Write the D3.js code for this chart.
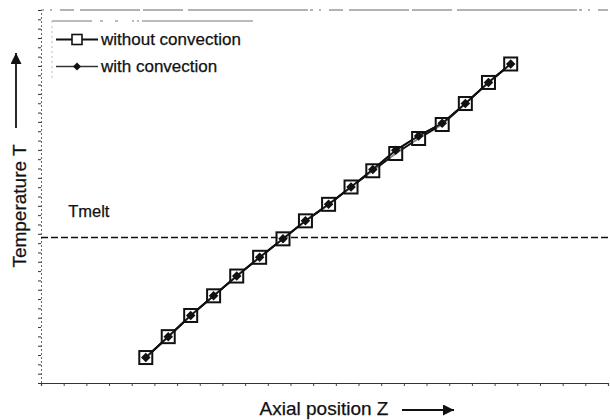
<!DOCTYPE html>
<html>
<head>
<meta charset="utf-8">
<script src="https://cdn.jsdelivr.net/npm/d3@7"></script>
<style>
  body { margin: 0; background: #fff; }
  svg text { font-family: "Liberation Sans", Arial, sans-serif; fill: #111; stroke: #111; stroke-width: 0.25; }
</style>
</head>
<body>
<div id="chart"></div>
<script>
// Axial position (arbitrary units)
const zPos = [4.62, 5.61, 6.60, 7.61, 8.63, 9.64, 10.67, 11.66, 12.68, 13.67, 14.63, 15.64, 16.65, 17.69, 18.71, 19.73, 20.71];
// Temperature without convection
const tWithout = [2.73, 4.97, 7.24, 9.35, 11.47, 13.48, 15.46, 17.39, 19.16, 21.02, 22.76, 24.61, 26.22, 27.72, 29.97, 32.23, 34.21];
// Temperature with convection
const tWith = [2.73, 4.97, 7.24, 9.35, 11.47, 13.48, 15.46, 17.39, 19.16, 21.02, 22.90, 24.95, 26.50, 27.85, 29.97, 32.23, 34.21];
const tMelt = 15.6;
const seriesNames = ["without convection", "with convection"];

const width = 610, height = 420;
const margin = { top: 10, right: 2, bottom: 37, left: 41 };

const svg = d3.select("#chart").append("svg")
  .attr("width", width).attr("height", height);

const x = d3.scaleLinear().domain([0, 25]).range([margin.left, width - margin.right]);
const y = d3.scaleLinear().domain([0, 40]).range([height - margin.bottom, margin.top]);

// frame: top edge (faint, like the scan)
svg.append("line")
  .attr("x1", x(0)).attr("x2", x(25))
  .attr("y1", y(40)).attr("y2", y(40))
  .attr("stroke", "#666").attr("stroke-width", 1)
  .attr("stroke-dasharray", "3,6,2,8,14,6,60,3,40,5,120,2");

// x axis
const xAxis = svg.append("g")
  .attr("transform", `translate(0,${y(0)})`)
  .call(d3.axisBottom(x).ticks(25).tickSize(3).tickFormat(""));
xAxis.select(".domain").attr("stroke", "#333").attr("stroke-width", 1.2);
xAxis.selectAll(".tick line").attr("stroke", "#444");

// y axis
const yAxis = svg.append("g")
  .attr("transform", `translate(${x(0)},0)`)
  .call(d3.axisLeft(y).ticks(40).tickSize(3).tickFormat(""));
yAxis.select(".domain").attr("stroke", "#666").attr("stroke-dasharray", "2,2");
yAxis.selectAll(".tick line").attr("stroke", "#333");

// melting temperature line
svg.append("line")
  .attr("x1", x(0)).attr("x2", x(25))
  .attr("y1", y(tMelt)).attr("y2", y(tMelt))
  .attr("stroke", "#111").attr("stroke-width", 1.5)
  .attr("stroke-dasharray", "7,3");

svg.append("text")
  .attr("x", x(1.2)).attr("y", y(tMelt) - 21)
  .attr("font-size", 16.5)
  .text("Tmelt");

// series lines
const lineGen = d3.line().x((d, i) => x(zPos[i])).y(d => y(d));
svg.append("path")
  .datum(tWithout)
  .attr("d", lineGen)
  .attr("fill", "none").attr("stroke", "#111").attr("stroke-width", 2);
svg.append("path")
  .datum(tWith)
  .attr("d", lineGen)
  .attr("fill", "none").attr("stroke", "#111").attr("stroke-width", 2);

// square markers (without convection)
const sq = 13;
svg.append("g").selectAll("rect")
  .data(tWithout)
  .join("rect")
  .attr("x", (d, i) => x(zPos[i]) - sq / 2)
  .attr("y", d => y(d) - sq / 2)
  .attr("width", sq).attr("height", sq)
  .attr("fill", "#fff").attr("fill-opacity", 0.5)
  .attr("stroke", "#111").attr("stroke-width", 2);

// redraw the lines through the squares so they stay visible
svg.append("path")
  .datum(tWith)
  .attr("d", lineGen)
  .attr("fill", "none").attr("stroke", "#111").attr("stroke-width", 1.6);

// diamond markers (with convection)
const diamond = d3.symbol().type(d3.symbolDiamond2).size(58);
svg.append("g").selectAll("path")
  .data(tWith)
  .join("path")
  .attr("transform", (d, i) => `translate(${x(zPos[i])},${y(d)})`)
  .attr("d", diamond)
  .attr("fill", "#111");

// legend
const legend = svg.append("g");
legend.append("line")
  .attr("x1", 52).attr("x2", 253).attr("y1", 21).attr("y2", 21)
  .attr("stroke", "#777").attr("stroke-dasharray", "40,8,3,12,3,14,2,3,2,3,200");
legend.append("line")
  .attr("x1", 52).attr("x2", 52).attr("y1", 21).attr("y2", 80)
  .attr("stroke", "#bbb").attr("stroke-dasharray", "2,3");

const legendY = [39.5, 66.5];
seriesNames.forEach((name, i) => {
  const g = legend.append("g").attr("transform", `translate(0,${legendY[i]})`);
  g.append("line")
    .attr("x1", 56).attr("x2", 98)
    .attr("stroke", i === 0 ? "#111" : "#333").attr("stroke-width", i === 0 ? 1.8 : 1.3);
  if (i === 0) {
    g.append("rect")
      .attr("x", 77 - 5).attr("y", -5).attr("width", 10).attr("height", 10)
      .attr("fill", "#fff").attr("stroke", "#111").attr("stroke-width", 1.6);
  } else {
    g.append("path")
      .attr("transform", "translate(77,0)")
      .attr("d", d3.symbol().type(d3.symbolDiamond2).size(40))
      .attr("fill", "#111");
  }
  g.append("text")
    .attr("x", 101).attr("y", 5)
    .attr("font-size", 17)
    .text(name);
});

// axis titles with arrows
svg.append("defs").append("marker")
  .attr("id", "arrow")
  .attr("viewBox", "0 0 10 10")
  .attr("refX", 10).attr("refY", 5)
  .attr("markerWidth", 13).attr("markerHeight", 11)
  .attr("markerUnits", "userSpaceOnUse")
  .attr("orient", "auto")
  .append("path")
  .attr("d", "M0,0L10,5L0,10Z")
  .attr("fill", "#111");

svg.append("text")
  .attr("transform", "translate(26,206) rotate(-90)")
  .attr("text-anchor", "middle")
  .attr("font-size", 19)
  .text("Temperature T");
svg.append("line")
  .attr("x1", 16).attr("x2", 16).attr("y1", 128).attr("y2", 53)
  .attr("stroke", "#111").attr("stroke-width", 1.8)
  .attr("marker-end", "url(#arrow)");

svg.append("text")
  .attr("x", 324).attr("y", 415)
  .attr("text-anchor", "middle")
  .attr("font-size", 19)
  .text("Axial position Z");
svg.append("line")
  .attr("x1", 402).attr("x2", 454).attr("y1", 410).attr("y2", 410)
  .attr("stroke", "#111").attr("stroke-width", 1.8)
  .attr("marker-end", "url(#arrow)");
</script>
</body>
</html>
